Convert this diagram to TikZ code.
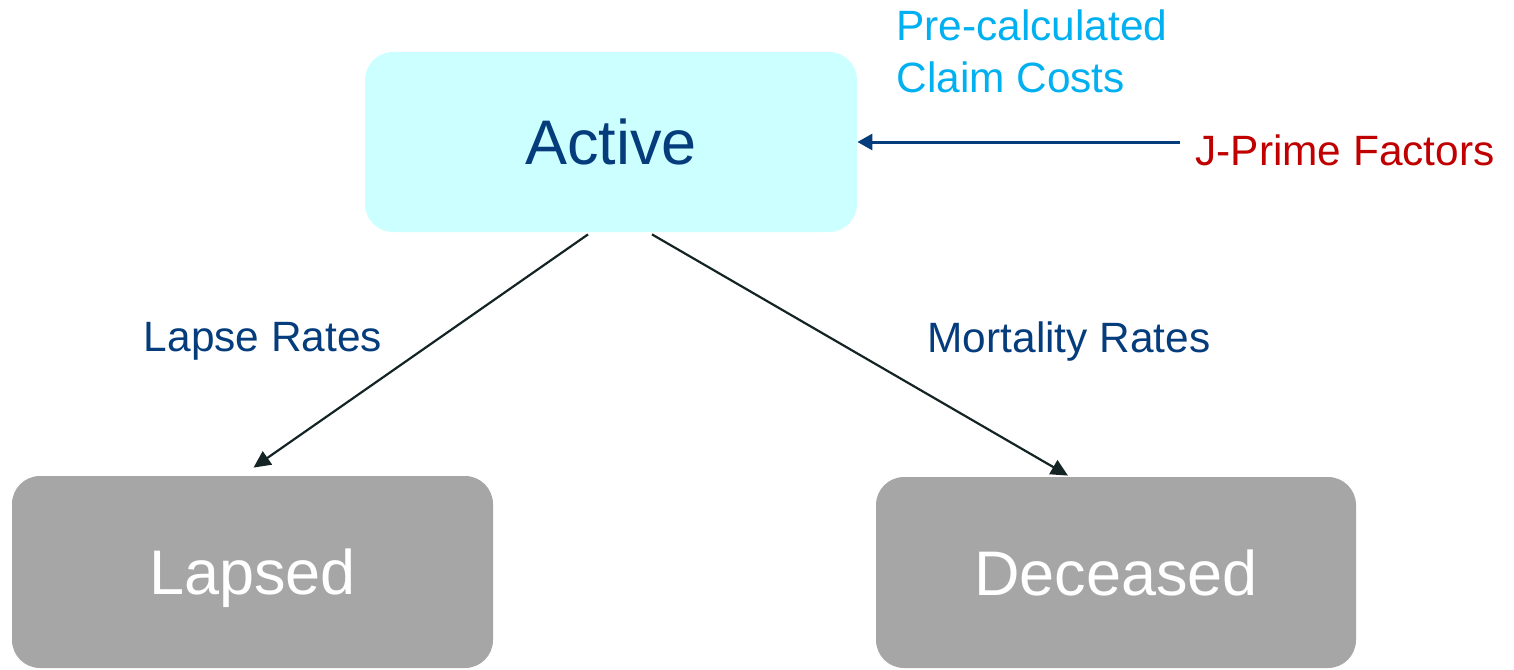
\documentclass[tikz,border=0pt]{standalone}
\usepackage{fontspec}
\setmainfont{Liberation Sans}
\usetikzlibrary{arrows.meta}
\definecolor{activefill}{HTML}{CCFFFF}
\definecolor{boxgray}{HTML}{A6A6A6}
\definecolor{darkblue}{HTML}{053C7C}
\definecolor{lightblue}{HTML}{00B0F0}
\definecolor{darkred}{HTML}{C00000}
\definecolor{arrowdark}{HTML}{142424}
\tikzset{
  statebox/.style={rounded corners=14pt, minimum width=246pt, minimum height=90pt, inner sep=0pt, text depth=0pt, font=\fontsize{31.5}{36}\selectfont},
  labeltext/.style={inner sep=0pt, font=\fontsize{21.2}{26}\selectfont},
  flow/.style={draw=arrowdark, line width=1.1pt, -{Triangle[length=8.5pt,width=8pt]}},
  feed/.style={draw=darkblue, line width=1.5pt, -{Triangle[length=7.5pt,width=8pt]}}
}
\begin{document}
\begin{tikzpicture}[x=0.5pt,y=-0.5pt]
\useasboundingbox (0,0) rectangle (1514,669);
\node[statebox, fill=activefill, text=darkblue] (active) at (611,142) {Active};
\node[statebox, fill=boxgray, text=white, minimum width=240.5pt, minimum height=96pt] (lapsed) at (252.5,572) {Lapsed};
\node[statebox, fill=boxgray, text=white, minimum width=240pt, minimum height=95.5pt] (deceased) at (1116,572.5) {Deceased};
\node[labeltext, text=lightblue, align=left, anchor=west] (precalc) at (896,51) {Pre-calculated\\Claim Costs};
\node[labeltext, text=darkred, anchor=west] (jprime) at (1195,150) {J-Prime Factors};
\node[labeltext, text=darkblue] (lapselbl) at (263,341) {Lapse Rates};
\node[labeltext, text=darkblue] (mortlbl) at (1069,342) {Mortality Rates};
\coordinate (jstart) at (1180,142);
\draw[feed] (jstart) -- (active.east);
\draw[flow] ([xshift=-11.5pt,yshift=-1pt]active.south) -- ([xshift=0.5pt,yshift=4pt]lapsed.north);
\draw[flow] ([xshift=20.5pt,yshift=-1pt]active.south) -- ([xshift=-24pt,yshift=0.5pt]deceased.north);
\end{tikzpicture}
\end{document}
